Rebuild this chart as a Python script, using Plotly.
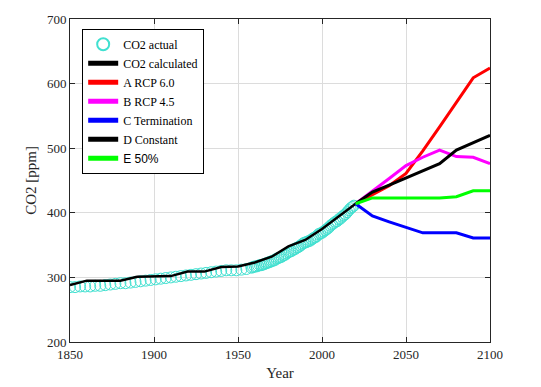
import plotly.graph_objects as go

# ---- data ----
years_actual = list(range(1850, 1958, 3)) + list(range(1958, 2020))
co2_actual = [
    # 1850-1955, every 3 years
    285, 285, 286, 286, 286, 287, 287, 288, 289, 290,
    291, 291, 292, 293, 294, 295, 296, 297, 298, 299,
    300, 301, 302, 303, 304, 305, 306, 307, 308, 309,
    310, 311, 311, 311, 312, 313,
    # 1958-2019, annual
    315, 316, 317, 317, 318, 319, 319, 320, 321, 322,
    323, 324, 325, 326, 327, 329, 330, 331, 332, 334,
    335, 337, 339, 340, 341, 343, 344, 346, 347, 349,
    351, 353, 354, 355, 356, 357, 359, 361, 362, 364,
    367, 368, 369, 371, 373, 375, 377, 380, 382, 384,
    386, 387, 390, 391, 394, 396, 398, 401, 404, 407,
    409, 411,
]

years_calc = [1850, 1860, 1870, 1880, 1890, 1900, 1910, 1920, 1930,
              1940, 1950, 1960, 1970, 1980, 1990, 2000, 2010, 2020]
co2_calc = [288, 295, 295, 295, 301, 302, 302, 309, 309,
            316, 317, 323, 332, 348, 358, 375, 394, 414]

years_proj = [2020, 2030, 2040, 2050, 2060, 2070, 2080, 2090, 2100]
rcp60 = [414, 428, 442, 461, 496, 533, 571, 609, 624]
rcp45 = [414, 433, 453, 473, 486, 497, 487, 486, 476]
termination = [414, 395, 386, 377, 369, 369, 369, 361, 361]
constant = [414, 432, 443, 454, 465, 476, 497, 508, 520]
half = [414, 423, 423, 423, 423, 423, 425, 434, 434]

SERIF = "Liberation Serif"
SANS = "Liberation Sans"


def serif(txt):
    return f'<span style="font-family:{SERIF}">{txt}</span>'


fig = go.Figure()
fig.add_trace(go.Scatter(
    x=years_actual, y=co2_actual, mode="markers", name=serif("CO2 actual"),
    marker=dict(symbol="circle-open", size=11, color="#40E0D0", line=dict(width=1)),
))
fig.add_trace(go.Scatter(x=years_calc, y=co2_calc, mode="lines",
                         name=serif("CO2 calculated"), line=dict(color="black", width=2.5)))
fig.add_trace(go.Scatter(x=years_proj, y=rcp60, mode="lines",
                         name=serif("A RCP 6.0"), line=dict(color="#FF0000", width=3)))
fig.add_trace(go.Scatter(x=years_proj, y=rcp45, mode="lines",
                         name=serif("B RCP 4.5"), line=dict(color="#FF00FF", width=3)))
fig.add_trace(go.Scatter(x=years_proj, y=termination, mode="lines",
                         name=serif("C Termination"), line=dict(color="#0000FF", width=3)))
fig.add_trace(go.Scatter(x=years_proj, y=constant, mode="lines",
                         name=serif("D Constant"), line=dict(color="black", width=3)))
fig.add_trace(go.Scatter(x=years_proj, y=half, mode="lines",
                         name=f'<span style="font-family:{SANS}">E 50%</span>',
                         line=dict(color="#00FF00", width=3)))

axis_common = dict(
    showline=True, linecolor="#262626", linewidth=1, mirror="ticks",
    ticks="inside", ticklen=5, tickcolor="#262626",
    showgrid=True, gridcolor="#DCDCDC", gridwidth=1, zeroline=False,
    tickfont=dict(family=SERIF, size=13, color="#262626"),
    ticklabeloverflow="allow",
)

# page body has an 8px default margin, so the figure is shrunk/offset by 8px
fig.update_layout(
    width=533, height=379,
    margin=dict(l=62, r=51, t=4, b=45),
    paper_bgcolor="white", plot_bgcolor="white",
    font=dict(family=SERIF, size=13, color="#262626"),
    xaxis=dict(range=[1850, 2100], dtick=50, tick0=1850,
               title=dict(text="Year", font=dict(family=SERIF, size=15), standoff=6),
               **axis_common),
    yaxis=dict(range=[200, 700], dtick=100, tick0=200,
               title=dict(text="CO2 [ppm]", font=dict(family=SERIF, size=15), standoff=6),
               **axis_common),
    legend=dict(x=0.029, y=0.97, xanchor="left", yanchor="top",
                bgcolor="white", bordercolor="black", borderwidth=1,
                font=dict(family=SERIF, size=12, color="black"),
                tracegroupgap=0, itemsizing="constant"),
    showlegend=True,
)

fig.write_html("out.html")
